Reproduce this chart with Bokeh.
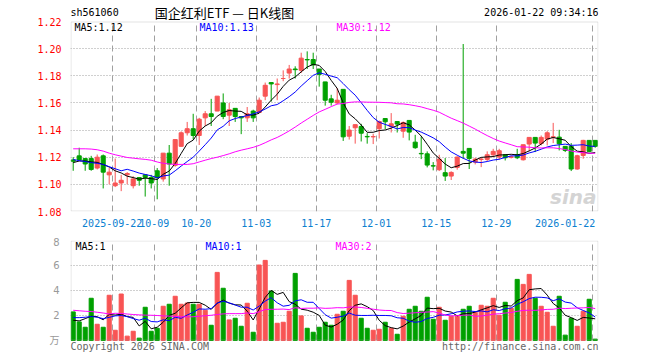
from bokeh.plotting import figure
from bokeh.layouts import column
from bokeh.models import Range1d, FixedTicker, Label, ColumnDataSource, PrintfTickFormatter, BoxAnnotation
from bokeh.embed import file_html
from bokeh.resources import INLINE

# ---------------- data ----------------
sep_days = ["09-11", "09-12", "09-15", "09-16", "09-17", "09-18", "09-19", "09-22", "09-23", "09-24",
            "09-25", "09-26", "09-29", "09-30"]
oct_days = ["10-09", "10-10", "10-13", "10-14", "10-15", "10-16", "10-17", "10-20", "10-21", "10-22",
            "10-23", "10-24", "10-27", "10-28", "10-29", "10-30", "10-31"]
nov_days = ["11-03", "11-04", "11-05", "11-06", "11-07", "11-10", "11-11", "11-12", "11-13", "11-14",
            "11-17", "11-18", "11-19", "11-20", "11-21", "11-24", "11-25", "11-26", "11-27", "11-28"]
dec_days = ["12-01", "12-02", "12-03", "12-04", "12-05", "12-08", "12-09", "12-10", "12-11", "12-12",
            "12-15", "12-16", "12-17", "12-18", "12-19", "12-22", "12-23", "12-24", "12-25", "12-26",
            "12-29", "12-30", "12-31"]
jan_days = ["01-05", "01-06", "01-07", "01-08", "01-09", "01-12", "01-13", "01-14", "01-15", "01-16",
            "01-19", "01-20", "01-21", "01-22"]
dates = ["2025-" + d for d in sep_days + oct_days + nov_days + dec_days] + ["2026-" + d for d in jan_days]

opens = [1.118, 1.121, 1.119, 1.119, 1.112, 1.121, 1.107, 1.099, 1.101, 1.107,
         1.099, 1.105, 1.107, 1.105, 1.110, 1.104, 1.123, 1.114, 1.128, 1.138,
         1.141, 1.136, 1.149, 1.152, 1.154, 1.160, 1.151, 1.156, 1.150, 1.149,
         1.154, 1.153, 1.165, 1.175, 1.1735, 1.178, 1.182, 1.185, 1.184, 1.192,
         1.192, 1.185, 1.1755, 1.163, 1.160, 1.170, 1.1355, 1.1417, 1.1426, 1.1353,
         1.135, 1.141, 1.1485, 1.1426, 1.1463, 1.1392, 1.1471, 1.1311, 1.1228, 1.1225,
         1.1137, 1.1108, 1.1086, 1.1061, 1.1125, 1.1243, 1.1265, 1.1164, 1.1184, 1.1184,
         1.1218, 1.1201, 1.1218, 1.1199, 1.1218, 1.1181, 1.1297, 1.1346, 1.1301, 1.1333,
         1.1348, 1.1348, 1.128, 1.128, 1.1113, 1.1213, 1.1324, 1.1324]
highs = [1.120, 1.127, 1.119, 1.121, 1.122, 1.122, 1.112, 1.119, 1.107, 1.109,
         1.106, 1.105, 1.107, 1.107, 1.112, 1.123, 1.129, 1.133, 1.139, 1.146,
         1.152, 1.149, 1.154, 1.163, 1.165, 1.167, 1.160, 1.156, 1.150, 1.157,
         1.155, 1.164, 1.175, 1.175, 1.178, 1.184, 1.188, 1.187, 1.197, 1.198,
         1.197, 1.185, 1.1755, 1.166, 1.171, 1.170, 1.143, 1.144, 1.1446, 1.1377,
         1.1373, 1.147, 1.1485, 1.1525, 1.1463, 1.1463, 1.1471, 1.1365, 1.1353, 1.1243,
         1.1164, 1.1218, 1.1194, 1.1096, 1.1206, 1.2034, 1.1265, 1.1196, 1.1196, 1.1243,
         1.1262, 1.1262, 1.1218, 1.1213, 1.1262, 1.1292, 1.1346, 1.1346, 1.136, 1.1392,
         1.1453, 1.1402, 1.128, 1.1304, 1.1218, 1.1328, 1.1324, 1.1324]
lows = [1.110, 1.118, 1.110, 1.110, 1.111, 1.097, 1.100, 1.098, 1.095, 1.100,
        1.097, 1.099, 1.091, 1.097, 1.089, 1.102, 1.099, 1.113, 1.128, 1.136,
        1.133, 1.129, 1.143, 1.143, 1.154, 1.148, 1.143, 1.146, 1.137, 1.146,
        1.146, 1.153, 1.162, 1.161, 1.162, 1.176, 1.178, 1.178, 1.182, 1.185,
        1.185, 1.172, 1.158, 1.158, 1.159, 1.132, 1.133, 1.130, 1.1316, 1.130,
        1.1297, 1.1338, 1.1407, 1.1382, 1.1382, 1.1343, 1.1324, 1.1262, 1.1186, 1.1125,
        1.1103, 1.1098, 1.1025, 1.1032, 1.1108, 1.1189, 1.1113, 1.1147, 1.1127, 1.1172,
        1.1201, 1.1181, 1.1176, 1.1191, 1.1186, 1.1176, 1.1243, 1.1238, 1.1287, 1.1287,
        1.1304, 1.125, 1.1238, 1.1098, 1.1108, 1.1189, 1.1235, 1.127]
closes = [1.117, 1.118, 1.115, 1.111, 1.120, 1.109, 1.109, 1.101, 1.103, 1.108,
          1.104, 1.103, 1.105, 1.101, 1.105, 1.123, 1.115, 1.133, 1.138, 1.141,
          1.136, 1.148, 1.152, 1.150, 1.165, 1.150, 1.155, 1.150, 1.149, 1.152,
          1.149, 1.162, 1.173, 1.174, 1.174, 1.178, 1.185, 1.1845, 1.193, 1.1917,
          1.188, 1.181, 1.162, 1.1605, 1.162, 1.135, 1.140, 1.144, 1.1377, 1.135,
          1.1352, 1.1463, 1.1461, 1.1446, 1.1444, 1.1456, 1.1385, 1.127, 1.1225, 1.1142,
          1.1135, 1.1186, 1.1061, 1.1088, 1.1201, 1.123, 1.1191, 1.1186, 1.1186, 1.1218,
          1.1243, 1.1248, 1.1196, 1.1203, 1.1196, 1.1292, 1.1346, 1.1304, 1.1346, 1.138,
          1.135, 1.1299, 1.125, 1.1113, 1.1211, 1.1324, 1.1243, 1.128]
volumes = [2.29, 1.49, 1.06, 3.38, 1.30, 1.06, 3.62, 0.82, 3.72, 0.35,
           0.74, 0.19, 2.66, 0.74, 0.98, 2.74, 2.90, 3.54, 2.90, 3.00,
           2.90, 2.90, 2.42, 1.22, 5.45, 4.18, 1.65, 1.78, 1.14, 2.98,
           0.66, 6.04, 6.41, 3.96, 1.38, 1.46, 2.34, 5.37, 1.97, 0.98,
           0.66, 1.06, 1.46, 1.22, 2.10, 2.34, 4.81, 3.62, 1.78, 0.98,
           0.82, 0.90, 1.46, 0.98, 0.50, 1.94, 2.50, 2.74, 2.34, 3.46,
           1.70, 2.66, 1.62, 1.94, 1.94, 2.50, 2.74, 2.26, 2.82, 2.74,
           3.38, 2.02, 3.06, 2.58, 4.89, 4.49, 5.29, 3.38, 2.74, 2.26,
           1.14, 3.54, 0.43, 1.78, 1.14, 2.34, 3.30, 0.11]

# moving-average values before enough in-window history exists
ma5_head = [1.1160, 1.1172, 1.1172, 1.1165]
ma10_head = [1.1183, 1.1175, 1.1168, 1.1160, 1.1155, 1.1147, 1.1130, 1.1115, 1.1100]
ma30_head = [1.1262, 1.1262, 1.1262, 1.1260, 1.1255, 1.1245, 1.1230, 1.1218, 1.1208, 1.1198,
             1.1193, 1.1188, 1.1184, 1.1178, 1.1165, 1.1155, 1.1150, 1.1147, 1.1147, 1.1147,
             1.1152, 1.1165, 1.1178, 1.1190, 1.1200, 1.1212, 1.1225, 1.1240, 1.1252]
vma5_head = [1.62, 1.57, 1.75, 1.94]
vma10_head = [1.83, 1.83, 1.86, 1.92, 1.86, 1.75, 1.85, 1.97, 2.00]
vma30_head = [2.42, 2.38, 2.34, 2.32, 2.26, 2.20, 2.12, 2.18, 2.16, 2.12,
              2.08, 2.05, 2.03, 2.02, 2.00, 1.97, 1.95, 1.93, 1.90, 1.89,
              1.90, 1.94, 1.98, 2.02, 2.08, 2.13, 2.15, 2.15, 2.15]

tick_dates = ["2025-09-22", "2025-10-09", "2025-10-20", "2025-11-03", "2025-11-17",
              "2025-12-01", "2025-12-15", "2025-12-29", "2026-01-22"]
tick_labels = ["2025-09-22", "10-09", "10-20", "11-03", "11-17", "12-01", "12-15", "12-29", "2026-01-22"]
price_ticks = [1.08, 1.10, 1.12, 1.14, 1.16, 1.18, 1.20, 1.22]
vol_ticks = [0, 2, 4, 6, 8]

header_code = "sh561060"
header_title = "国企红利ETF — 日K线图"
header_time = "2026-01-22 09:34:16"
price_legend = ["MA5:1.12", "MA10:1.13", "MA30:1.12"]
vol_legend = ["MA5:1", "MA10:1", "MA30:2"]
vol_unit = "万"
footer_left = "Copyright 2026 SINA.COM"
footer_right = "http://finance.sina.com.cn"


def moving_avg(vals, n, head):
    out = list(head)
    for i in range(n - 1, len(vals)):
        out.append(sum(vals[i - n + 1:i + 1]) / n)
    return out


# ---------------- styling / geometry ----------------
MONO = "DejaVu Sans Mono"
UP = "#F85454"
DOWN = "#00A000"
GRID = "#A0A0A0"
FRAME = "#A0A0A0"
MA_COLORS = ["#000000", "#0000FF", "#FF00FF"]

N = len(dates)
XPX = 1.0 / 6.0                    # data units per pixel (x)
X0, X1 = -0.45, N - 0.45
P_LO, P_HI = price_ticks[0], price_ticks[-1]
PPX = (P_HI - P_LO) / 190.0        # price units per pixel
P_TOP = P_HI + 21 * PPX            # frame extends up to hold the header row
V_LO, V_HI = vol_ticks[0], vol_ticks[-1]
VPX = (V_HI - V_LO) / 100.0
V_BOT = V_LO - 16 * VPX            # frame extends down to hold the footer row

idx = list(range(N))
colors = [UP if c >= o else DOWN for o, c in zip(opens, closes)]
src = ColumnDataSource(dict(
    x=idx, h=highs, l=lows,
    top=[max(o, c) for o, c in zip(opens, closes)],
    bot=[min(o, c) for o, c in zip(opens, closes)],
    color=colors, vol=volumes,
    ma5=moving_avg(closes, 5, ma5_head),
    ma10=moving_avg(closes, 10, ma10_head),
    ma30=moving_avg(closes, 30, ma30_head),
    vma5=moving_avg(volumes, 5, vma5_head),
    vma10=moving_avg(volumes, 10, vma10_head),
    vma30=moving_avg(volumes, 30, vma30_head),
))

grid_pos = [dates.index(d) - 0.5 for d in tick_dates]
label_pos = list(grid_pos)
label_pos[-1] = grid_pos[-1] - 4.5   # last label kept inside the frame
x_range = Range1d(X0, X1)


def style_axis(ax, color, font, standoff):
    ax.major_label_text_color = color
    ax.major_label_text_font = font
    ax.major_label_text_font_size = "10px"
    ax.major_label_standoff = standoff
    ax.major_tick_line_color = None
    ax.minor_tick_line_color = None
    ax.axis_line_color = None


# ---------------- price panel ----------------
p = figure(width=660, height=236, x_range=x_range, y_range=Range1d(P_LO, P_TOP),
           output_backend="svg", toolbar_location=None,
           min_border_left=70, min_border_right=62, min_border_top=0, min_border_bottom=25)
p.outline_line_color = None
p.add_layout(BoxAnnotation(left=X0 + 0.5 * XPX, right=X1 - 0.5 * XPX,
                           bottom=P_LO + 0.5 * PPX, top=P_HI - 0.5 * PPX,
                           fill_color=None, line_color=FRAME, line_width=1))

p.xaxis.ticker = FixedTicker(ticks=label_pos)
p.xaxis.major_label_overrides = {pos: lab for pos, lab in zip(label_pos, tick_labels)}
style_axis(p.xaxis, "#0A80D0", MONO, 1)
p.yaxis.ticker = FixedTicker(ticks=price_ticks)
p.yaxis.formatter = PrintfTickFormatter(format="%.2f")
style_axis(p.yaxis, "#FF0000", MONO, 3)

p.xgrid.ticker = FixedTicker(ticks=grid_pos)
p.xgrid.cross_bounds = (P_LO, P_HI)
p.xgrid.grid_line_color = GRID
p.xgrid.grid_line_dash = "6 4"
p.ygrid.ticker = FixedTicker(ticks=price_ticks[1:-1])
p.ygrid.cross_bounds = (X0, X1)
p.ygrid.grid_line_color = GRID
p.ygrid.grid_line_dash = "1 2"

p.segment(x0="x", y0="l", x1="x", y1="h", color="color", line_width=1, source=src)
p.vbar(x="x", width=0.68, top="top", bottom="bot", fill_color="color", line_color="color",
       line_width=1, source=src)
for col, c in zip(["ma5", "ma10", "ma30"], MA_COLORS):
    p.line("x", col, color=c, line_width=1, source=src)

HEAD_Y = 211 - 12
p.add_layout(Label(x=0, y=HEAD_Y, x_units="screen", y_units="screen", text=header_code,
                   text_font=MONO, text_font_size="10px", text_color="#000000",
                   text_baseline="middle", text_align="left"))
p.add_layout(Label(x=154, y=HEAD_Y, x_units="screen", y_units="screen", text=header_title,
                   text_font="Noto Sans CJK SC", text_font_size="13px", text_color="#000000",
                   text_baseline="middle", text_align="center"))
p.add_layout(Label(x=528, y=HEAD_Y, x_units="screen", y_units="screen", text=header_time,
                   text_font=MONO, text_font_size="10px", text_color="#000000",
                   text_baseline="middle", text_align="right"))
for xs, t, c in zip([4, 129, 266], price_legend, MA_COLORS):
    p.add_layout(Label(x=xs, y=184, x_units="screen", y_units="screen", text=t,
                       text_font=MONO, text_font_size="10px", text_color=c,
                       text_baseline="middle", text_align="left"))
p.add_layout(Label(x=526, y=3, x_units="screen", y_units="screen", text="sina",
                   text_font="DejaVu Sans", text_font_style="bold italic", text_font_size="20px",
                   text_color="#D4D4D4", text_baseline="bottom", text_align="right"))

# ---------------- volume panel ----------------
p2 = figure(width=660, height=120, x_range=x_range, y_range=Range1d(V_BOT, V_HI),
            output_backend="svg", toolbar_location=None,
            min_border_left=70, min_border_right=62, min_border_top=4, min_border_bottom=0)
p2.outline_line_color = None
p2.add_layout(BoxAnnotation(left=X0 + 0.5 * XPX, right=X1 - 0.5 * XPX,
                            bottom=V_LO + 0.5 * VPX, top=V_HI - 0.5 * VPX,
                            fill_color=None, line_color=FRAME, line_width=1))
p2.xaxis.visible = False
p2.yaxis.ticker = FixedTicker(ticks=vol_ticks)
p2.yaxis.major_label_overrides = {0: vol_unit}
style_axis(p2.yaxis, "#999999", "DejaVu Sans, Noto Sans CJK SC", 5)
p2.xgrid.ticker = FixedTicker(ticks=grid_pos)
p2.xgrid.cross_bounds = (V_LO, V_HI)
p2.xgrid.grid_line_color = GRID
p2.xgrid.grid_line_dash = "6 4"
p2.ygrid.ticker = FixedTicker(ticks=[2, 4, 6])
p2.ygrid.cross_bounds = (X0, X1)
p2.ygrid.grid_line_color = GRID
p2.ygrid.grid_line_dash = "1 2"

p2.vbar(x="x", width=0.68, top="vol", bottom=0, fill_color="color", line_color="color",
        line_width=1, source=src)
for col, c in zip(["vma5", "vma10", "vma30"], MA_COLORS):
    p2.line("x", col, color=c, line_width=1, source=src)

for xs, t, c in zip([5, 135, 265], vol_legend, MA_COLORS):
    p2.add_layout(Label(x=xs, y=110, x_units="screen", y_units="screen", text=t,
                        text_font=MONO, text_font_size="10px", text_color=c,
                        text_baseline="middle", text_align="left"))
p2.add_layout(Label(x=0, y=10, x_units="screen", y_units="screen", text=footer_left,
                    text_font=MONO, text_font_size="10px", text_color="#666666",
                    text_baseline="middle", text_align="left"))
p2.add_layout(Label(x=528, y=10, x_units="screen", y_units="screen", text=footer_right,
                    text_font=MONO, text_font_size="10px", text_color="#666666",
                    text_baseline="middle", text_align="right"))

layout = column(p, p2, spacing=0)
open("out.html", "w").write(file_html(layout, INLINE))
